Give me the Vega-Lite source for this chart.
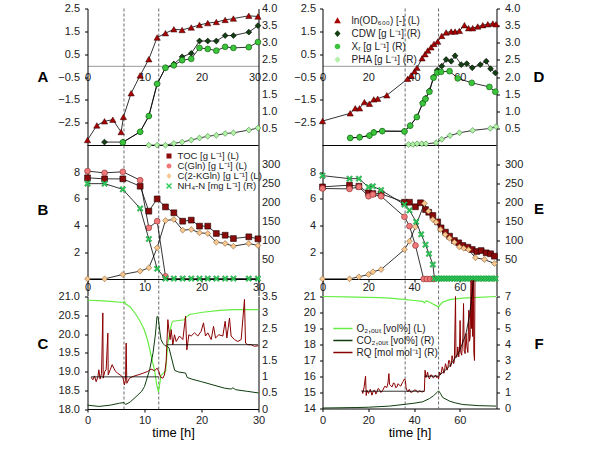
{
"$schema":"https://vega.github.io/schema/vega-lite/v6.json",
"padding":{"left":36.5,"top":2.5,"right":0,"bottom":0},
"background":"white",
"config":{"view":{"stroke":null},"font":"Liberation Sans",
"axis":{"labelFont":"Liberation Sans","labelFontSize":11,"labelColor":"#222","domainColor":"black","tickColor":"black","grid":false,"labelFlush":false,"labelOverlap":false,"labelBound":false,"titleFont":"Liberation Sans","titleColor":"black","titleFontWeight":"normal","domainWidth":1,"tickWidth":1},
"legend":{"labelFont":"Liberation Sans","labelColor":"#222","labelLimit":0}},
"datasets":{
"vlL":[{"t":6.4},{"t":12.5}],
"vlR":[{"t":36.1},{"t":50.7}],
"bot":[{"v":-3.5}],
"A":[
{"t":0,"s":"ln","v":-3.26},{"t":1.64,"s":"ln","v":-2.62},{"t":2.98,"s":"ln","v":-2.44},{"t":4.44,"s":"ln","v":-2.37},{"t":5.9,"s":"ln","v":-2.91},{"t":6.3,"s":"ln","v":-2.25},{"t":7.66,"s":"ln","v":-1.21},{"t":9.24,"s":"ln","v":-0.43},{"t":10.76,"s":"ln","v":0.28},{"t":12.22,"s":"ln","v":1.23},{"t":13.68,"s":"ln","v":1.42},{"t":15.15,"s":"ln","v":1.59},{"t":16.6,"s":"ln","v":1.56},{"t":18.2,"s":"ln","v":1.67},{"t":19.65,"s":"ln","v":1.78},{"t":21.1,"s":"ln","v":1.86},{"t":22.6,"s":"ln","v":1.91},{"t":24.15,"s":"ln","v":2.0},{"t":25.6,"s":"ln","v":2.06},{"t":28.3,"s":"ln","v":2.18},{"t":29.9,"s":"ln","v":2.15},
{"t":2.98,"s":"CDW","v":0.10},{"t":6.2,"s":"CDW","v":0.10},{"t":9.24,"s":"CDW","v":0.40},{"t":10.76,"s":"CDW","v":0.86},{"t":12.22,"s":"CDW","v":1.80},{"t":13.68,"s":"CDW","v":2.27},{"t":15.15,"s":"CDW","v":2.38},{"t":16.6,"s":"CDW","v":2.59},{"t":18.2,"s":"CDW","v":2.69},{"t":19.65,"s":"CDW","v":3.05},{"t":21.1,"s":"CDW","v":3.05},{"t":22.6,"s":"CDW","v":3.05},{"t":24.15,"s":"CDW","v":3.21},{"t":25.6,"s":"CDW","v":3.21},{"t":28.3,"s":"CDW","v":3.31},{"t":29.9,"s":"CDW","v":3.50},
{"t":6.2,"s":"Xr","v":0.09},{"t":9.24,"s":"Xr","v":0.40},{"t":10.76,"s":"Xr","v":0.86},{"t":12.22,"s":"Xr","v":1.80},{"t":13.68,"s":"Xr","v":2.27},{"t":15.15,"s":"Xr","v":2.34},{"t":16.6,"s":"Xr","v":2.49},{"t":18.2,"s":"Xr","v":2.53},{"t":19.65,"s":"Xr","v":2.85},{"t":21.1,"s":"Xr","v":2.82},{"t":22.6,"s":"Xr","v":2.77},{"t":24.15,"s":"Xr","v":2.88},{"t":25.6,"s":"Xr","v":2.85},{"t":28.3,"s":"Xr","v":2.87},{"t":29.9,"s":"Xr","v":3.02},
{"t":10.76,"s":"PHA","v":0.01},{"t":12.22,"s":"PHA","v":0.01},{"t":13.68,"s":"PHA","v":0.01},{"t":15.15,"s":"PHA","v":0.06},{"t":16.6,"s":"PHA","v":0.10},{"t":18.2,"s":"PHA","v":0.16},{"t":19.65,"s":"PHA","v":0.22},{"t":21.1,"s":"PHA","v":0.27},{"t":22.6,"s":"PHA","v":0.30},{"t":24.15,"s":"PHA","v":0.35},{"t":25.6,"s":"PHA","v":0.37},{"t":28.3,"s":"PHA","v":0.45},{"t":29.9,"s":"PHA","v":0.51}],
"D":[
{"t":0,"s":"ln","v":-2.43},{"t":12.1,"s":"ln","v":-2.09},{"t":14.3,"s":"ln","v":-1.87},{"t":16.2,"s":"ln","v":-1.87},{"t":18.3,"s":"ln","v":-1.6},{"t":20.5,"s":"ln","v":-1.67},{"t":22.4,"s":"ln","v":-1.48},{"t":24.1,"s":"ln","v":-1.45},{"t":28.1,"s":"ln","v":-1.3},{"t":37.2,"s":"ln","v":-0.58},{"t":38.7,"s":"ln","v":-0.43},{"t":40.2,"s":"ln","v":-0.25},{"t":41.3,"s":"ln","v":-0.1},{"t":43.5,"s":"ln","v":0.32},{"t":44.8,"s":"ln","v":0.5},{"t":46.0,"s":"ln","v":0.66},{"t":47.4,"s":"ln","v":0.8},{"t":48.7,"s":"ln","v":0.95},{"t":50.3,"s":"ln","v":1.05},{"t":52.1,"s":"ln","v":1.3},{"t":54.0,"s":"ln","v":1.45},{"t":56.2,"s":"ln","v":1.49},{"t":57.9,"s":"ln","v":1.49},{"t":59.8,"s":"ln","v":1.52},{"t":62.0,"s":"ln","v":1.77},{"t":63.8,"s":"ln","v":1.64},{"t":65.6,"s":"ln","v":1.64},{"t":67.8,"s":"ln","v":1.71},{"t":70.0,"s":"ln","v":1.77},{"t":72.2,"s":"ln","v":1.81},{"t":74.4,"s":"ln","v":1.84},{"t":75.8,"s":"ln","v":1.81},
{"t":12.1,"s":"CDW","v":0.22},{"t":16.2,"s":"CDW","v":0.24},{"t":20.5,"s":"CDW","v":0.29},{"t":22.4,"s":"CDW","v":0.39},{"t":26.1,"s":"CDW","v":0.42},{"t":35.8,"s":"CDW","v":0.42},{"t":38.3,"s":"CDW","v":0.58},{"t":41.2,"s":"CDW","v":0.83},{"t":43.8,"s":"CDW","v":1.25},{"t":45.0,"s":"CDW","v":1.38},{"t":46.7,"s":"CDW","v":1.6},{"t":48.5,"s":"CDW","v":2.0},{"t":50.1,"s":"CDW","v":2.2},{"t":52.1,"s":"CDW","v":2.32},{"t":54.0,"s":"CDW","v":2.51},{"t":56.2,"s":"CDW","v":2.46},{"t":57.9,"s":"CDW","v":2.62},{"t":60.6,"s":"CDW","v":2.36},{"t":63.0,"s":"CDW","v":2.39},{"t":65.4,"s":"CDW","v":2.27},{"t":68.9,"s":"CDW","v":2.36},{"t":71.5,"s":"CDW","v":2.46},{"t":73.4,"s":"CDW","v":2.24},{"t":75.5,"s":"CDW","v":2.12},
{"t":12.1,"s":"Xr","v":0.22},{"t":16.2,"s":"Xr","v":0.24},{"t":20.5,"s":"Xr","v":0.29},{"t":22.4,"s":"Xr","v":0.38},{"t":26.1,"s":"Xr","v":0.42},{"t":35.8,"s":"Xr","v":0.41},{"t":38.3,"s":"Xr","v":0.58},{"t":41.2,"s":"Xr","v":0.83},{"t":43.8,"s":"Xr","v":1.23},{"t":45.0,"s":"Xr","v":1.36},{"t":46.7,"s":"Xr","v":1.57},{"t":48.5,"s":"Xr","v":1.98},{"t":50.1,"s":"Xr","v":2.13},{"t":51.8,"s":"Xr","v":2.15},{"t":55.5,"s":"Xr","v":2.17},{"t":59.1,"s":"Xr","v":1.96},{"t":65.2,"s":"Xr","v":1.83},{"t":72.9,"s":"Xr","v":1.71},{"t":75.5,"s":"Xr","v":1.57},
{"t":37.6,"s":"PHA","v":0.03},{"t":39.5,"s":"PHA","v":0.03},{"t":41.3,"s":"PHA","v":0.05},{"t":43.4,"s":"PHA","v":0.05},{"t":45.2,"s":"PHA","v":0.05},{"t":49.6,"s":"PHA","v":0.08},{"t":52.1,"s":"PHA","v":0.18},{"t":55.7,"s":"PHA","v":0.29},{"t":59.8,"s":"PHA","v":0.37},{"t":65.6,"s":"PHA","v":0.44},{"t":73.3,"s":"PHA","v":0.5},{"t":75.8,"s":"PHA","v":0.55}],
"B":[
{"t":0,"s":"TOC","v":7.58},{"t":3.0,"s":"TOC","v":7.5},{"t":6.2,"s":"TOC","v":7.5},{"t":9.24,"s":"TOC","v":6.95},{"t":10.76,"s":"TOC","v":5.08},{"t":12.22,"s":"TOC","v":6.0},{"t":13.68,"s":"TOC","v":5.4},{"t":15.15,"s":"TOC","v":4.96},{"t":16.7,"s":"TOC","v":4.33},{"t":18.2,"s":"TOC","v":4.41},{"t":19.65,"s":"TOC","v":3.96},{"t":21.1,"s":"TOC","v":3.96},{"t":22.6,"s":"TOC","v":3.41},{"t":24.15,"s":"TOC","v":3.28},{"t":25.6,"s":"TOC","v":3.03},{"t":28.3,"s":"TOC","v":3.16},{"t":29.9,"s":"TOC","v":3.01},
{"t":0,"s":"Gln","v":8.08},{"t":3.0,"s":"Gln","v":7.95},{"t":6.2,"s":"Gln","v":8.03},{"t":9.24,"s":"Gln","v":7.4},{"t":10.76,"s":"Gln","v":3.83},{"t":12.22,"s":"Gln","v":4.33},{"t":13.68,"s":"Gln","v":0.2},
{"t":0,"s":"KG","v":0.01},{"t":3.0,"s":"KG","v":0.01},{"t":6.2,"s":"KG","v":0.34},{"t":9.24,"s":"KG","v":0.59},{"t":10.76,"s":"KG","v":0.84},{"t":12.22,"s":"KG","v":2.34},{"t":13.68,"s":"KG","v":4.38},{"t":15.15,"s":"KG","v":4.46},{"t":16.7,"s":"KG","v":3.66},{"t":18.2,"s":"KG","v":3.71},{"t":19.65,"s":"KG","v":3.46},{"t":21.1,"s":"KG","v":3.41},{"t":22.6,"s":"KG","v":2.76},{"t":24.15,"s":"KG","v":2.66},{"t":25.6,"s":"KG","v":2.46},{"t":28.3,"s":"KG","v":2.66},{"t":29.9,"s":"KG","v":2.51},
{"t":0,"s":"NH4","v":250},{"t":3.0,"s":"NH4","v":250},{"t":6.2,"s":"NH4","v":235},{"t":9.24,"s":"NH4","v":185},{"t":10.76,"s":"NH4","v":105},{"t":12.22,"s":"NH4","v":27},{"t":13.68,"s":"NH4","v":1},{"t":15.15,"s":"NH4","v":1},{"t":16.7,"s":"NH4","v":1},{"t":18.2,"s":"NH4","v":1},{"t":19.65,"s":"NH4","v":1},{"t":21.1,"s":"NH4","v":1},{"t":22.6,"s":"NH4","v":1},{"t":24.15,"s":"NH4","v":1},{"t":25.6,"s":"NH4","v":1},{"t":28.3,"s":"NH4","v":1},{"t":29.9,"s":"NH4","v":1}],
"E":[
{"t":0,"s":"TOC","v":6.9},{"t":11.8,"s":"TOC","v":7.03},{"t":15.9,"s":"TOC","v":6.95},{"t":20.1,"s":"TOC","v":6.45},{"t":22.0,"s":"TOC","v":6.4},{"t":25.6,"s":"TOC","v":6.38},{"t":35.8,"s":"TOC","v":5.75},{"t":38.0,"s":"TOC","v":5.75},{"t":40.6,"s":"TOC","v":5.41},{"t":42.8,"s":"TOC","v":5.71},{"t":45.0,"s":"TOC","v":5.2},{"t":46.4,"s":"TOC","v":5.0},{"t":48.2,"s":"TOC","v":4.76},{"t":50.3,"s":"TOC","v":4.28},{"t":51.8,"s":"TOC","v":3.83},{"t":53.7,"s":"TOC","v":3.51},{"t":55.5,"s":"TOC","v":3.21},{"t":57.6,"s":"TOC","v":2.88},{"t":59.5,"s":"TOC","v":2.71},{"t":61.3,"s":"TOC","v":2.51},{"t":63.5,"s":"TOC","v":2.38},{"t":65.4,"s":"TOC","v":2.21},{"t":67.4,"s":"TOC","v":2.06},{"t":69.3,"s":"TOC","v":2.13},{"t":71.5,"s":"TOC","v":1.96},{"t":73.4,"s":"TOC","v":1.89},{"t":75.1,"s":"TOC","v":1.71},
{"t":0,"s":"Gln","v":6.78},{"t":11.8,"s":"Gln","v":6.75},{"t":15.9,"s":"Gln","v":6.9},{"t":20.1,"s":"Gln","v":6.2},{"t":22.0,"s":"Gln","v":6.33},{"t":25.6,"s":"Gln","v":6.2},{"t":35.8,"s":"Gln","v":4.66},{"t":38.0,"s":"Gln","v":3.96},{"t":40.6,"s":"Gln","v":2.51},{"t":44.2,"s":"Gln","v":0},{"t":45.6,"s":"Gln","v":0},{"t":47.1,"s":"Gln","v":0},{"t":48.6,"s":"Gln","v":0},
{"t":0,"s":"KG","v":0.01},{"t":11.8,"s":"KG","v":0.01},{"t":15.9,"s":"KG","v":0.16},{"t":20.1,"s":"KG","v":0.34},{"t":22.0,"s":"KG","v":0.54},{"t":25.6,"s":"KG","v":0.71},{"t":35.8,"s":"KG","v":2.21},{"t":38.0,"s":"KG","v":2.83},{"t":40.6,"s":"KG","v":3.91},{"t":44.5,"s":"KG","v":5.66},{"t":46.3,"s":"KG","v":5.08},{"t":48.2,"s":"KG","v":4.46},{"t":49.6,"s":"KG","v":4.26},{"t":51.5,"s":"KG","v":3.71},{"t":53.6,"s":"KG","v":3.33},{"t":55.5,"s":"KG","v":3.05},{"t":57.6,"s":"KG","v":2.75},{"t":59.8,"s":"KG","v":2.4},{"t":61.7,"s":"KG","v":2.3},{"t":63.8,"s":"KG","v":2.2},{"t":66.8,"s":"KG","v":1.59},{"t":70.7,"s":"KG","v":1.46},{"t":75.1,"s":"KG","v":1.16},
{"t":0,"s":"NH4","v":271},{"t":11.8,"s":"NH4","v":263},{"t":15.9,"s":"NH4","v":263},{"t":20.1,"s":"NH4","v":241},{"t":22.0,"s":"NH4","v":243},{"t":25.6,"s":"NH4","v":233},{"t":35.8,"s":"NH4","v":195},{"t":38.0,"s":"NH4","v":180},{"t":40.9,"s":"NH4","v":150},{"t":43.1,"s":"NH4","v":117},{"t":45.0,"s":"NH4","v":90},{"t":46.5,"s":"NH4","v":66},{"t":48.2,"s":"NH4","v":38},{"t":48.9,"s":"NH4","v":1},{"t":50.2,"s":"NH4","v":1},{"t":51.3,"s":"NH4","v":1},{"t":52.5,"s":"NH4","v":1},{"t":53.6,"s":"NH4","v":1},{"t":54.8,"s":"NH4","v":1},{"t":56.0,"s":"NH4","v":1},{"t":57.1,"s":"NH4","v":1},{"t":58.3,"s":"NH4","v":1},{"t":59.4,"s":"NH4","v":1},{"t":60.6,"s":"NH4","v":1},{"t":61.7,"s":"NH4","v":1},{"t":62.9,"s":"NH4","v":1},{"t":64.0,"s":"NH4","v":1},{"t":65.2,"s":"NH4","v":1},{"t":66.4,"s":"NH4","v":1},{"t":67.5,"s":"NH4","v":1},{"t":68.7,"s":"NH4","v":1},{"t":69.8,"s":"NH4","v":1},{"t":71.0,"s":"NH4","v":1},{"t":72.1,"s":"NH4","v":1},{"t":73.3,"s":"NH4","v":1},{"t":74.4,"s":"NH4","v":1},{"t":75.6,"s":"NH4","v":1}],
"C":[
{"t":0,"s":"O2","v":20.9},{"t":2,"s":"O2","v":20.89},{"t":4,"s":"O2","v":20.87},{"t":6.3,"s":"O2","v":20.84},{"t":6.5,"s":"O2","v":20.87},{"t":6.7,"s":"O2","v":20.8},{"t":7.5,"s":"O2","v":20.72},{"t":8.5,"s":"O2","v":20.52},{"t":9.3,"s":"O2","v":20.32},{"t":10,"s":"O2","v":20.1},{"t":10.6,"s":"O2","v":19.8},{"t":11.2,"s":"O2","v":19.4},{"t":11.75,"s":"O2","v":19.04},{"t":12.2,"s":"O2","v":18.6},{"t":12.45,"s":"O2","v":18.45},{"t":12.9,"s":"O2","v":18.9},{"t":13.7,"s":"O2","v":19.0},{"t":14.1,"s":"O2","v":19.76},{"t":14.5,"s":"O2","v":20.1},{"t":14.8,"s":"O2","v":20.3},{"t":15.0,"s":"O2","v":20.34},{"t":17.0,"s":"O2","v":20.38},{"t":17.3,"s":"O2","v":20.45},{"t":17.9,"s":"O2","v":20.52},{"t":20.2,"s":"O2","v":20.58},{"t":23.2,"s":"O2","v":20.63},{"t":25.5,"s":"O2","v":20.65},{"t":30,"s":"O2","v":20.65},
{"t":0,"s":"CO2","v":0.12},{"t":2,"s":"CO2","v":0.08},{"t":4,"s":"CO2","v":0.12},{"t":5.6,"s":"CO2","v":0.18},{"t":6.4,"s":"CO2","v":0.2},{"t":6.7,"s":"CO2","v":0.14},{"t":7.5,"s":"CO2","v":0.22},{"t":8.5,"s":"CO2","v":0.38},{"t":9.5,"s":"CO2","v":0.55},{"t":10,"s":"CO2","v":0.7},{"t":10.9,"s":"CO2","v":1.22},{"t":11.5,"s":"CO2","v":1.75},{"t":11.9,"s":"CO2","v":2.3},{"t":12.2,"s":"CO2","v":2.88},{"t":12.4,"s":"CO2","v":2.85},{"t":12.7,"s":"CO2","v":2.4},{"t":12.9,"s":"CO2","v":2.16},{"t":13.2,"s":"CO2","v":2.05},{"t":13.6,"s":"CO2","v":1.97},{"t":14.0,"s":"CO2","v":1.95},{"t":14.3,"s":"CO2","v":1.9},{"t":15.0,"s":"CO2","v":1.4},{"t":15.3,"s":"CO2","v":1.2},{"t":16,"s":"CO2","v":1.15},{"t":17.2,"s":"CO2","v":1.12},{"t":17.5,"s":"CO2","v":0.98},{"t":18.5,"s":"CO2","v":0.92},{"t":20,"s":"CO2","v":0.85},{"t":22,"s":"CO2","v":0.75},{"t":24,"s":"CO2","v":0.65},{"t":25.2,"s":"CO2","v":0.62},{"t":25.5,"s":"CO2","v":0.66},{"t":26,"s":"CO2","v":0.6},{"t":28,"s":"CO2","v":0.55},{"t":30,"s":"CO2","v":0.5},
{"t":0.64,"s":"RQ","v":0.99},{"t":0.94,"s":"RQ","v":0.91},{"t":1.23,"s":"RQ","v":1.03},{"t":1.52,"s":"RQ","v":0.85},{"t":1.81,"s":"RQ","v":0.99},{"t":1.99,"s":"RQ","v":1.22},{"t":2.22,"s":"RQ","v":0.93},{"t":2.46,"s":"RQ","v":1.11},{"t":2.69,"s":"RQ","v":2.99},{"t":2.75,"s":"RQ","v":0.96},{"t":3.04,"s":"RQ","v":1.17},{"t":3.27,"s":"RQ","v":1.22},{"t":3.57,"s":"RQ","v":2.36},{"t":3.63,"s":"RQ","v":1.06},{"t":3.98,"s":"RQ","v":1.22},{"t":4.33,"s":"RQ","v":1.38},{"t":4.62,"s":"RQ","v":1.27},{"t":4.91,"s":"RQ","v":1.17},{"t":5.32,"s":"RQ","v":1.11},{"t":5.73,"s":"RQ","v":1.06},{"t":6.2,"s":"RQ","v":0.99},{"t":6.49,"s":"RQ","v":0.75},{"t":6.67,"s":"RQ","v":0.91},{"t":6.78,"s":"RQ","v":2.05},{"t":6.9,"s":"RQ","v":0.8},{"t":7.37,"s":"RQ","v":0.96},{"t":7.95,"s":"RQ","v":1.01},{"t":8.83,"s":"RQ","v":1.06},{"t":9.71,"s":"RQ","v":1.11},{"t":10.58,"s":"RQ","v":1.17},{"t":11.17,"s":"RQ","v":1.24},{"t":11.75,"s":"RQ","v":1.19},{"t":12.22,"s":"RQ","v":1.27},{"t":12.51,"s":"RQ","v":1.17},{"t":12.81,"s":"RQ","v":0.99},{"t":13.22,"s":"RQ","v":0.96},{"t":13.5,"s":"RQ","v":1.06},{"t":13.8,"s":"RQ","v":1.48},{"t":14.1,"s":"RQ","v":2.78},{"t":14.27,"s":"RQ","v":2.47},{"t":14.5,"s":"RQ","v":2.16},{"t":14.68,"s":"RQ","v":2.47},{"t":14.97,"s":"RQ","v":2.0},{"t":15.26,"s":"RQ","v":2.31},{"t":15.56,"s":"RQ","v":2.1},{"t":16.14,"s":"RQ","v":2.27},{"t":16.73,"s":"RQ","v":2.16},{"t":17.2,"s":"RQ","v":2.89},{"t":17.43,"s":"RQ","v":1.84},{"t":17.78,"s":"RQ","v":2.31},{"t":18.19,"s":"RQ","v":2.27},{"t":18.77,"s":"RQ","v":2.37},{"t":19.36,"s":"RQ","v":2.27},{"t":19.94,"s":"RQ","v":2.42},{"t":20.35,"s":"RQ","v":2.68},{"t":20.7,"s":"RQ","v":2.27},{"t":21.11,"s":"RQ","v":2.37},{"t":21.7,"s":"RQ","v":2.16},{"t":22.11,"s":"RQ","v":2.57},{"t":22.46,"s":"RQ","v":2.21},{"t":23.04,"s":"RQ","v":2.31},{"t":23.74,"s":"RQ","v":2.27},{"t":24.15,"s":"RQ","v":2.73},{"t":24.45,"s":"RQ","v":2.21},{"t":24.91,"s":"RQ","v":2.83},{"t":25.2,"s":"RQ","v":2.27},{"t":25.79,"s":"RQ","v":2.16},{"t":26.37,"s":"RQ","v":2.1},{"t":26.96,"s":"RQ","v":2.16},{"t":27.54,"s":"RQ","v":3.41},{"t":27.72,"s":"RQ","v":2.05},{"t":28.13,"s":"RQ","v":2.0},{"t":28.71,"s":"RQ","v":2.0},{"t":29.3,"s":"RQ","v":1.95},{"t":30.0,"s":"RQ","v":1.97}],
"Cfit":[{"t":0.64,"v":1.0,"g":"a"},{"t":12.5,"v":1.0,"g":"a"},{"t":13.9,"v":2.0,"g":"b"},{"t":29.9,"v":2.0,"g":"b"}],
"F":[
{"t":0,"s":"O2","v":21.0},{"t":10,"s":"O2","v":20.98},{"t":14.7,"s":"O2","v":20.96},{"t":20,"s":"O2","v":20.95},{"t":25,"s":"O2","v":20.93},{"t":29.3,"s":"O2","v":20.9},{"t":33,"s":"O2","v":20.85},{"t":36.5,"s":"O2","v":20.8},{"t":40,"s":"O2","v":20.75},{"t":43.8,"s":"O2","v":20.7},{"t":44.5,"s":"O2","v":20.6},{"t":45.2,"s":"O2","v":20.72},{"t":46,"s":"O2","v":20.7},{"t":48,"s":"O2","v":20.55},{"t":50.7,"s":"O2","v":20.35},{"t":51.5,"s":"O2","v":20.5},{"t":52.5,"s":"O2","v":20.65},{"t":55.5,"s":"O2","v":20.8},{"t":58,"s":"O2","v":20.85},{"t":61.3,"s":"O2","v":20.9},{"t":68,"s":"O2","v":20.95},{"t":75.8,"s":"O2","v":21.0},
{"t":0,"s":"CO2","v":0.03},{"t":14.7,"s":"CO2","v":0.06},{"t":20,"s":"CO2","v":0.08},{"t":29.3,"s":"CO2","v":0.15},{"t":36.5,"s":"CO2","v":0.27},{"t":40,"s":"CO2","v":0.33},{"t":43.8,"s":"CO2","v":0.42},{"t":46.7,"s":"CO2","v":0.62},{"t":48.5,"s":"CO2","v":0.8},{"t":50,"s":"CO2","v":1.0},{"t":50.7,"s":"CO2","v":1.1},{"t":51.5,"s":"CO2","v":0.95},{"t":52.5,"s":"CO2","v":0.69},{"t":55.5,"s":"CO2","v":0.46},{"t":58,"s":"CO2","v":0.35},{"t":61.3,"s":"CO2","v":0.25},{"t":68,"s":"CO2","v":0.18},{"t":75.8,"s":"CO2","v":0.15},
{"t":17.2,"s":"RQ","v":1.14},{"t":17.6,"s":"RQ","v":0.94},{"t":18.2,"s":"RQ","v":1.36},{"t":18.8,"s":"RQ","v":2.02},{"t":19.1,"s":"RQ","v":0.81},{"t":19.4,"s":"RQ","v":1.14},{"t":20.1,"s":"RQ","v":0.94},{"t":20.9,"s":"RQ","v":1.2},{"t":21.6,"s":"RQ","v":0.83},{"t":22.2,"s":"RQ","v":1.1},{"t":22.8,"s":"RQ","v":1.14},{"t":23.3,"s":"RQ","v":0.9},{"t":23.8,"s":"RQ","v":1.04},{"t":24.3,"s":"RQ","v":1.25},{"t":24.8,"s":"RQ","v":1.2},{"t":25.5,"s":"RQ","v":1.0},{"t":26.3,"s":"RQ","v":1.14},{"t":27.2,"s":"RQ","v":1.39},{"t":28.1,"s":"RQ","v":1.31},{"t":28.6,"s":"RQ","v":1.6},{"t":29.0,"s":"RQ","v":2.18},{"t":29.3,"s":"RQ","v":1.5},{"t":29.6,"s":"RQ","v":1.45},{"t":30.4,"s":"RQ","v":1.35},{"t":31.0,"s":"RQ","v":1.6},{"t":31.5,"s":"RQ","v":1.56},{"t":32.0,"s":"RQ","v":1.3},{"t":32.5,"s":"RQ","v":1.35},{"t":33.0,"s":"RQ","v":1.55},{"t":33.6,"s":"RQ","v":1.45},{"t":34.2,"s":"RQ","v":1.4},{"t":34.8,"s":"RQ","v":1.6},{"t":35.3,"s":"RQ","v":1.7},{"t":35.8,"s":"RQ","v":1.85},{"t":36.2,"s":"RQ","v":1.75},{"t":36.5,"s":"RQ","v":1.3},{"t":36.8,"s":"RQ","v":1.16},{"t":37.3,"s":"RQ","v":1.05},{"t":37.9,"s":"RQ","v":1.2},{"t":38.6,"s":"RQ","v":1.0},{"t":39.4,"s":"RQ","v":1.06},{"t":40.1,"s":"RQ","v":1.15},{"t":40.9,"s":"RQ","v":1.14},{"t":41.6,"s":"RQ","v":1.0},{"t":42.4,"s":"RQ","v":1.1},{"t":43.1,"s":"RQ","v":1.05},{"t":43.8,"s":"RQ","v":1.04},{"t":44.5,"s":"RQ","v":1.1},{"t":44.8,"s":"RQ","v":2.39},{"t":45.2,"s":"RQ","v":1.93},{"t":45.6,"s":"RQ","v":2.1},{"t":45.9,"s":"RQ","v":2.27},{"t":46.3,"s":"RQ","v":1.95},{"t":46.7,"s":"RQ","v":1.85},{"t":47.3,"s":"RQ","v":2.1},{"t":47.9,"s":"RQ","v":2.06},{"t":48.4,"s":"RQ","v":1.9},{"t":48.9,"s":"RQ","v":2.0},{"t":49.4,"s":"RQ","v":2.1},{"t":49.9,"s":"RQ","v":1.93},{"t":50.3,"s":"RQ","v":2.0},{"t":50.7,"s":"RQ","v":1.85},{"t":51.1,"s":"RQ","v":2.27},{"t":51.5,"s":"RQ","v":2.1},{"t":51.9,"s":"RQ","v":2.27},{"t":52.3,"s":"RQ","v":2.6},{"t":52.6,"s":"RQ","v":2.47},{"t":53.0,"s":"RQ","v":2.2},{"t":53.3,"s":"RQ","v":2.37},{"t":53.7,"s":"RQ","v":2.8},{"t":54.0,"s":"RQ","v":2.68},{"t":54.4,"s":"RQ","v":2.4},{"t":54.8,"s":"RQ","v":2.58},{"t":55.1,"s":"RQ","v":3.0},{"t":55.5,"s":"RQ","v":2.99},{"t":55.9,"s":"RQ","v":2.6},{"t":56.2,"s":"RQ","v":2.74},{"t":56.6,"s":"RQ","v":3.3},{"t":56.9,"s":"RQ","v":3.1},{"t":57.3,"s":"RQ","v":2.8},{"t":57.6,"s":"RQ","v":2.99},{"t":58.1,"s":"RQ","v":7.0},{"t":58.3,"s":"RQ","v":3.2},{"t":58.7,"s":"RQ","v":3.22},{"t":59.1,"s":"RQ","v":3.85},{"t":59.5,"s":"RQ","v":3.22},{"t":59.8,"s":"RQ","v":3.6},{"t":60.1,"s":"RQ","v":5.5},{"t":60.4,"s":"RQ","v":3.5},{"t":60.8,"s":"RQ","v":3.33},{"t":61.3,"s":"RQ","v":4.47},{"t":61.6,"s":"RQ","v":6.56},{"t":61.9,"s":"RQ","v":3.6},{"t":62.3,"s":"RQ","v":3.43},{"t":62.7,"s":"RQ","v":4.69},{"t":63.0,"s":"RQ","v":3.95},{"t":63.5,"s":"RQ","v":3.5},{"t":63.9,"s":"RQ","v":6.14},{"t":64.2,"s":"RQ","v":4.2},{"t":64.5,"s":"RQ","v":4.47},{"t":64.9,"s":"RQ","v":8.0},{"t":65.1,"s":"RQ","v":5.0},{"t":65.4,"s":"RQ","v":8.0},{"t":65.6,"s":"RQ","v":4.5},{"t":65.9,"s":"RQ","v":8.0},{"t":66.1,"s":"RQ","v":3.5},{"t":66.4,"s":"RQ","v":3.0},{"t":66.6,"s":"RQ","v":8.0}],
"Ffit":[{"t":17.2,"v":1.08,"g":"a"},{"t":44.6,"v":1.08,"g":"a"},{"t":44.6,"v":2.02,"g":"b"},{"t":50.7,"v":2.02,"g":"b"},{"t":50.7,"v":2.05,"g":"c"},{"t":53,"v":2.3,"g":"c"},{"t":55.5,"v":2.65,"g":"c"},{"t":57.5,"v":3.05,"g":"c"},{"t":59.8,"v":3.6,"g":"c"},{"t":61.5,"v":4.2,"g":"c"},{"t":62.7,"v":4.7,"g":"c"},{"t":64.2,"v":5.8,"g":"c"},{"t":65.2,"v":7.0,"g":"c"},{"t":65.9,"v":8.0,"g":"c"}],
"legB":[{"s":"TOC [g L⁻¹] (L)"},{"s":"C(Gln) [g L⁻¹] (L)"},{"s":"C(2-KGln) [g L⁻¹] (L)"},{"s":"NH₄-N [mg L⁻¹] (R)"}],
"legD":[{"s":"ln(OD₆₀₀) [-] (L)"},{"s":"CDW [g L⁻¹] (R)"},{"s":"Xᵣ [g L⁻¹] (R)"},{"s":"PHA [g L⁻¹] (R)"}],
"legF":[{"s":"O₂,ₒᵤₜ [vol%] (L)"},{"s":"CO₂,ₒᵤₜ [vol%] (R)"},{"s":"RQ [mol mol⁻¹] (R)"}]
},
"concat":[
  {"width":171,"height":137,
   "layer":[
    {"data":{"name":"vlL"},"mark":{"type":"rule","strokeDash":[3,2],"color":"#444","strokeWidth":0.8},
     "encoding":{"x":{"field":"t","type":"quantitative","scale":{"domain":[0,30],"nice":false},"axis":{"orient":"bottom","offset":-79.7,"values":[0,10,20,30],"labelOverlap":false,"labelOffset":{"condition":{"test":"datum.value == 30","value":-4},"value":0},"domainColor":"#999","ticks":false,"labelPadding":6,"title":null}}}},
    {"encoding":{"x":{"field":"t","type":"quantitative"},"y":{"field":"v","type":"quantitative","scale":{"domain":[-3.5,2.5],"nice":false,"zero":false},"axis":{"orient":"left","values":[-2.5,-1.5,-0.5,0.5,1.5,2.5],"labelOverlap":false,"format":".1f","tickSize":3,"labelPadding":5,"title":"A","titleAngle":0,"titleX":-45,"titleY":68,"titleFontSize":15,"titleFontWeight":"bold","titleAlign":"center","titleBaseline":"middle"}}},
     "layer":[
      {"data":{"name":"bot"},"mark":{"type":"rule","color":"black","strokeWidth":1},"encoding":{"x":null}},
      {"data":{"name":"A"},"transform":[{"filter":"datum.s=='ln'"}],"mark":{"type":"line","color":"black","strokeWidth":0.8}},
      {"data":{"name":"A"},"transform":[{"filter":"datum.s=='ln'"}],"mark":{"type":"point","shape":"triangle-up","filled":true,"fill":"#a80000","stroke":"#300000","strokeWidth":0.5,"size":40,"opacity":1}}
    ]},
    {"data":{"name":"A"},"transform":[{"filter":"datum.s!='ln'"}],
     "encoding":{"x":{"field":"t","type":"quantitative"},"y":{"field":"v","type":"quantitative","scale":{"domain":[0,4],"nice":false},"axis":{"orient":"right","values":[0.5,1,1.5,2,2.5,3,3.5,4],"labelOverlap":false,"format":".1f","ticks":false,"labelPadding":3,"title":null}}},
     "layer":[
      {"mark":{"type":"line","color":"black","strokeWidth":0.8},"encoding":{"detail":{"field":"s"}}},
      {"mark":{"type":"point","filled":true,"size":34,"opacity":1,"strokeWidth":0.6},"encoding":{
        "shape":{"field":"s","scale":{"domain":["CDW","Xr","PHA"],"range":["diamond","circle","diamond"]},"legend":null},
        "fill":{"field":"s","scale":{"domain":["CDW","Xr","PHA"],"range":["#124012","#3cc43c","#b4f0a8"]},"legend":null},
        "stroke":{"field":"s","scale":{"domain":["CDW","Xr","PHA"],"range":["#000000","#0a5a0a","#3a8a3a"]},"legend":null}}}
     ]}
   ],
   "resolve":{"scale":{"y":"independent","shape":"independent","fill":"independent","stroke":"independent"}}},
  {"width":174,"height":137,
   "layer":[
    {"data":{"name":"vlR"},"mark":{"type":"rule","strokeDash":[3,2],"color":"#444","strokeWidth":0.8},
     "encoding":{"x":{"field":"t","type":"quantitative","scale":{"domain":[0,76],"nice":false},"axis":{"orient":"bottom","offset":-79.7,"values":[0,20,40,60],"labelOverlap":false,"domainColor":"#999","ticks":false,"labelPadding":6,"title":null}}}},
    {"encoding":{"x":{"field":"t","type":"quantitative"},"y":{"field":"v","type":"quantitative","scale":{"domain":[-3.5,2.5],"nice":false,"zero":false},"axis":{"orient":"left","values":[-2.5,-1.5,-0.5,0.5,1.5,2.5],"labelOverlap":false,"format":".1f","tickSize":3,"labelPadding":4,"title":null}}},
     "layer":[
      {"data":{"name":"bot"},"mark":{"type":"rule","color":"black","strokeWidth":1},"encoding":{"x":null}},
      {"data":{"name":"D"},"transform":[{"filter":"datum.s=='ln'"}],"mark":{"type":"line","color":"black","strokeWidth":0.8}},
      {"data":{"name":"D"},"transform":[{"filter":"datum.s=='ln'"}],"mark":{"type":"point","shape":"triangle-up","filled":true,"fill":"#a80000","stroke":"#300000","strokeWidth":0.5,"size":40,"opacity":1}}
    ]},
    {"data":{"name":"D"},"transform":[{"filter":"datum.s!='ln'"}],
     "encoding":{"x":{"field":"t","type":"quantitative"},"y":{"field":"v","type":"quantitative","scale":{"domain":[0,4],"nice":false},"axis":{"orient":"right","values":[0.5,1,1.5,2,2.5,3,3.5,4],"labelOverlap":false,"format":".1f","tickSize":3,"labelPadding":5,"title":"D","titleAngle":0,"titleX":42,"titleY":68,"titleFontSize":15,"titleFontWeight":"bold","titleAlign":"center","titleBaseline":"middle"}}},
     "layer":[
      {"mark":{"type":"line","color":"black","strokeWidth":0.8},"encoding":{"detail":{"field":"s"}}},
      {"mark":{"type":"point","filled":true,"size":34,"opacity":1,"strokeWidth":0.6},"encoding":{
        "shape":{"field":"s","scale":{"domain":["CDW","Xr","PHA"],"range":["diamond","circle","diamond"]},"legend":null},
        "fill":{"field":"s","scale":{"domain":["CDW","Xr","PHA"],"range":["#124012","#3cc43c","#b4f0a8"]},"legend":null},
        "stroke":{"field":"s","scale":{"domain":["CDW","Xr","PHA"],"range":["#000000","#0a5a0a","#3a8a3a"]},"legend":null}}}
     ]},
    {"data":{"name":"legD"},"mark":{"type":"point","filled":true,"opacity":0,"stroke":"black","strokeWidth":0.6},
     "encoding":{
      "shape":{"field":"s","scale":{"domain":["ln(OD₆₀₀) [-] (L)","CDW [g L⁻¹] (R)","Xᵣ [g L⁻¹] (R)","PHA [g L⁻¹] (R)"],"range":["M-1,0L1,0M0,-0.45L0.45,0.35L-0.45,0.35Z","M-1,0L1,0M0,-0.45L0.4,0L0,0.45L-0.4,0Z","M-1,0L1,0M0.38,0A0.38,0.38,0,1,1,-0.38,0A0.38,0.38,0,1,1,0.38,0Z","M-1,0L1,0M0,-0.45L0.4,0L0,0.45L-0.4,0Z"]},
        "legend":{"title":null,"orient":"none","legendX":7,"legendY":4,"symbolSize":225,"symbolStrokeColor":"black","symbolStrokeWidth":0.6,"symbolOpacity":1,"labelFontSize":10,"labelOffset":6,"rowPadding":-1.4,"padding":0}},
      "fill":{"field":"s","scale":{"domain":["ln(OD₆₀₀) [-] (L)","CDW [g L⁻¹] (R)","Xᵣ [g L⁻¹] (R)","PHA [g L⁻¹] (R)"],"range":["#a80000","#124012","#3cc43c","#b4f0a8"]},
        "legend":{"title":null,"orient":"none","legendX":7,"legendY":4,"symbolSize":225,"symbolStrokeColor":"black","symbolStrokeWidth":0.6,"symbolOpacity":1,"labelFontSize":10,"labelOffset":6,"rowPadding":-1.4,"padding":0}}}}
   ],
   "resolve":{"scale":{"y":"independent","shape":"independent","fill":"independent","stroke":"independent"}}},
  {"width":171,"height":150.3,
   "layer":[
    {"data":{"name":"vlL"},"mark":{"type":"rule","strokeDash":[3,2],"color":"#444","strokeWidth":0.8},
     "encoding":{"x":{"field":"t","type":"quantitative","scale":{"domain":[0,30],"nice":false},"axis":{"orient":"bottom","offset":-16.8,"values":[0,10,20,30],"labelOverlap":false,"tickSize":3,"labelPadding":-1,"title":null}}}},
    {"data":{"name":"B"},"transform":[{"filter":"datum.s!='NH4'"}],
     "encoding":{"x":{"field":"t","type":"quantitative"},"y":{"field":"v","type":"quantitative","scale":{"domain":[-1.258,10],"nice":false,"zero":false},"axis":{"orient":"left","values":[2,4,6,8],"labelOverlap":false,"tickSize":3,"labelPadding":5,"title":"B","titleAngle":0,"titleX":-45,"titleY":64,"titleFontSize":15,"titleFontWeight":"bold","titleAlign":"center","titleBaseline":"middle"}}},
     "layer":[
      {"mark":{"type":"line","color":"black","strokeWidth":0.8},"encoding":{"detail":{"field":"s"}}},
      {"mark":{"type":"point","filled":true,"size":34,"opacity":1,"strokeWidth":0.6},"encoding":{
        "shape":{"field":"s","scale":{"domain":["TOC","Gln","KG"],"range":["square","circle","diamond"]},"legend":null},
        "fill":{"field":"s","scale":{"domain":["TOC","Gln","KG"],"range":["#8b0a0a","#f07878","#f8c890"]},"legend":null},
        "stroke":{"field":"s","scale":{"domain":["TOC","Gln","KG"],"range":["#200000","#8a3030","#8a6030"]},"legend":null}}}
     ]},
    {"data":{"name":"B"},"transform":[{"filter":"datum.s=='NH4'"}],
     "encoding":{"x":{"field":"t","type":"quantitative"},"y":{"field":"v","type":"quantitative","scale":{"domain":[-44.05,350],"nice":false,"zero":false},"axis":{"orient":"right","values":[50,100,150,200,250,300],"labelOverlap":false,"ticks":false,"labelPadding":3,"title":null}}},
     "layer":[
      {"mark":{"type":"line","color":"black","strokeWidth":0.8}},
      {"mark":{"type":"point","filled":true,"size":36,"opacity":1,"fill":"#2ecc5a","stroke":"#108a30","strokeWidth":0.5,"shape":"M-1,-0.6L-0.6,-1L0,-0.35L0.6,-1L1,-0.6L0.35,0L1,0.6L0.6,1L0,0.35L-0.6,1L-1,0.6L-0.35,0Z"}}
     ]},
    {"data":{"name":"legB"},"mark":{"type":"point","filled":true,"opacity":0,"stroke":"black","strokeWidth":0.6},
     "encoding":{
      "shape":{"field":"s","scale":{"domain":["TOC [g L⁻¹] (L)","C(Gln) [g L⁻¹] (L)","C(2-KGln) [g L⁻¹] (L)","NH₄-N [mg L⁻¹] (R)"],"range":["M-1.2,0L1.2,0M-0.5,-0.5L0.5,-0.5L0.5,0.5L-0.5,0.5Z","M-1.2,0L1.2,0M0.5,0A0.5,0.5,0,1,1,-0.5,0A0.5,0.5,0,1,1,0.5,0Z","M-1.2,0L1.2,0M0,-0.6L0.5,0L0,0.6L-0.5,0Z","M-1.2,0L1.2,0M-0.6,-0.4L-0.4,-0.6L0,-0.2L0.4,-0.6L0.6,-0.4L0.2,0L0.6,0.4L0.4,0.6L0,0.2L-0.4,0.6L-0.6,0.4L-0.2,0Z"]},
        "legend":{"title":null,"orient":"none","legendX":76,"legendY":5,"symbolSize":100,"symbolStrokeColor":"black","symbolStrokeWidth":0.6,"symbolOpacity":1,"labelFontSize":9.5,"labelOffset":3,"rowPadding":0,"padding":0}},
      "fill":{"field":"s","scale":{"domain":["TOC [g L⁻¹] (L)","C(Gln) [g L⁻¹] (L)","C(2-KGln) [g L⁻¹] (L)","NH₄-N [mg L⁻¹] (R)"],"range":["#8b0a0a","#f07878","#f8c890","#2ecc5a"]},
        "legend":{"title":null,"orient":"none","legendX":76,"legendY":5,"symbolSize":100,"symbolStrokeColor":"black","symbolStrokeWidth":0.6,"symbolOpacity":1,"labelFontSize":9.5,"labelOffset":3,"rowPadding":0,"padding":0}}}}
   ],
   "resolve":{"scale":{"y":"independent","shape":"independent","fill":"independent","stroke":"independent"}}},
  {"width":174,"height":150.3,
   "layer":[
    {"data":{"name":"vlR"},"mark":{"type":"rule","strokeDash":[3,2],"color":"#444","strokeWidth":0.8},
     "encoding":{"x":{"field":"t","type":"quantitative","scale":{"domain":[0,76],"nice":false},"axis":{"orient":"bottom","offset":-16.8,"values":[0,20,40,60],"labelOverlap":false,"tickSize":3,"labelPadding":-1,"title":null}}}},
    {"data":{"name":"E"},"transform":[{"filter":"datum.s!='NH4'"}],
     "encoding":{"x":{"field":"t","type":"quantitative"},"y":{"field":"v","type":"quantitative","scale":{"domain":[-1.258,10],"nice":false,"zero":false},"axis":{"orient":"left","values":[2,4,6,8],"labelOverlap":false,"tickSize":3,"labelPadding":4,"title":null}}},
     "layer":[
      {"mark":{"type":"line","color":"black","strokeWidth":0.8},"encoding":{"detail":{"field":"s"}}},
      {"mark":{"type":"point","filled":true,"size":34,"opacity":1,"strokeWidth":0.6},"encoding":{
        "shape":{"field":"s","scale":{"domain":["TOC","Gln","KG"],"range":["square","circle","diamond"]},"legend":null},
        "fill":{"field":"s","scale":{"domain":["TOC","Gln","KG"],"range":["#8b0a0a","#f07878","#f8c890"]},"legend":null},
        "stroke":{"field":"s","scale":{"domain":["TOC","Gln","KG"],"range":["#200000","#8a3030","#8a6030"]},"legend":null}}}
     ]},
    {"data":{"name":"E"},"transform":[{"filter":"datum.s=='NH4'"}],
     "encoding":{"x":{"field":"t","type":"quantitative"},"y":{"field":"v","type":"quantitative","scale":{"domain":[-44.05,350],"nice":false,"zero":false},"axis":{"orient":"right","values":[50,100,150,200,250,300],"labelOverlap":false,"tickSize":3,"labelPadding":5,"title":"E","titleAngle":0,"titleX":42,"titleY":63,"titleFontSize":15,"titleFontWeight":"bold","titleAlign":"center","titleBaseline":"middle"}}},
     "layer":[
      {"mark":{"type":"line","color":"black","strokeWidth":0.8}},
      {"mark":{"type":"point","filled":true,"size":36,"opacity":1,"fill":"#2ecc5a","stroke":"#108a30","strokeWidth":0.5,"shape":"M-1,-0.6L-0.6,-1L0,-0.35L0.6,-1L1,-0.6L0.35,0L1,0.6L0.6,1L0,0.35L-0.6,1L-1,0.6L-0.35,0Z"}}
     ]}
   ],
   "resolve":{"scale":{"y":"independent","shape":"independent","fill":"independent","stroke":"independent"}}},
  {"width":171,"height":112.5,
   "layer":[
    {"data":{"name":"vlL"},"mark":{"type":"rule","strokeDash":[3,2],"color":"#444","strokeWidth":0.8},
     "encoding":{"x":{"field":"t","type":"quantitative","scale":{"domain":[0,30],"nice":false},"axis":{"orient":"bottom","values":[0,10,20,30],"labelOverlap":false,"tickSize":3,"labelPadding":2.5,"title":"time [h]","titleFontSize":13,"titlePadding":1}}}},
    {"data":{"name":"C"},"transform":[{"filter":"datum.s=='O2'"}],"mark":{"type":"line","color":"#66ee44","strokeWidth":1.2},
     "encoding":{"x":{"field":"t","type":"quantitative"},"y":{"field":"v","type":"quantitative","scale":{"domain":[18,21],"nice":false,"zero":false},"axis":{"orient":"left","values":[18,18.5,19,19.5,20,20.5,21],"labelOverlap":false,"format":".1f","tickSize":3,"labelPadding":5,"title":"C","titleAngle":0,"titleX":-45,"titleY":47,"titleFontSize":15,"titleFontWeight":"bold","titleAlign":"center","titleBaseline":"middle"}}}},
    {"encoding":{"x":{"field":"t","type":"quantitative"},"y":{"field":"v","type":"quantitative","scale":{"domain":[0,3.5],"nice":false},"axis":{"orient":"right","values":[0,0.5,1,1.5,2,2.5,3,3.5],"labelOverlap":false,"format":".2~f","ticks":false,"labelPadding":3,"title":null}}},
     "layer":[
      {"data":{"name":"C"},"transform":[{"filter":"datum.s!='O2'"}],"mark":{"type":"line","strokeWidth":1},
       "encoding":{"color":{"field":"s","scale":{"domain":["CO2","RQ"],"range":["#0d3d0d","#8b0000"]},"legend":null}}},
      {"data":{"name":"Cfit"},"mark":{"type":"line","color":"black","strokeWidth":0.8},"encoding":{"detail":{"field":"g"}}}
    ]}
   ],
   "resolve":{"scale":{"y":"independent","color":"independent"}}},
  {"width":174,"height":112,
   "layer":[
    {"data":{"name":"vlR"},"mark":{"type":"rule","strokeDash":[3,2],"color":"#444","strokeWidth":0.8},
     "encoding":{"x":{"field":"t","type":"quantitative","scale":{"domain":[0,76],"nice":false},"axis":{"orient":"bottom","values":[0,20,40,60],"labelOverlap":false,"tickSize":3,"labelPadding":2.5,"title":"time [h]","titleFontSize":13,"titlePadding":1}}}},
    {"data":{"name":"F"},"transform":[{"filter":"datum.s=='O2'"}],"mark":{"type":"line","color":"#66ee44","strokeWidth":1.2},
     "encoding":{"x":{"field":"t","type":"quantitative"},"y":{"field":"v","type":"quantitative","scale":{"domain":[14,21],"nice":false,"zero":false},"axis":{"orient":"left","values":[14,15,16,17,18,19,20,21],"labelOverlap":false,"tickSize":3,"labelPadding":4,"title":null}}}},
    {"encoding":{"x":{"field":"t","type":"quantitative"},"y":{"field":"v","type":"quantitative","scale":{"domain":[0,7],"nice":false},"axis":{"orient":"right","values":[0,1,2,3,4,5,6,7],"labelOverlap":false,"tickSize":3,"labelPadding":5,"title":"F","titleAngle":0,"titleX":42,"titleY":47,"titleFontSize":15,"titleFontWeight":"bold","titleAlign":"center","titleBaseline":"middle"}}},
     "layer":[
      {"data":{"name":"F"},"transform":[{"filter":"datum.s!='O2'"}],"mark":{"type":"line","strokeWidth":1,"clip":false},
       "encoding":{"color":{"field":"s","scale":{"domain":["CO2","RQ"],"range":["#0d3d0d","#8b0000"]},"legend":null}}},
      {"data":{"name":"Ffit"},"mark":{"type":"line","color":"black","strokeWidth":0.8,"clip":false},"encoding":{"detail":{"field":"g"}}}
    ]},
    {"data":{"name":"legF"},"mark":{"type":"point","opacity":0,"strokeWidth":1.5},
     "encoding":{"stroke":{"field":"s","scale":{"domain":["O₂,ₒᵤₜ [vol%] (L)","CO₂,ₒᵤₜ [vol%] (R)","RQ [mol mol⁻¹] (R)"],"range":["#66ee44","#0d3d0d","#8b0000"]},
       "legend":{"title":null,"orient":"none","legendX":13.4,"legendY":25,"symbolType":"M-1.6,0L1.6,0","symbolSize":144,"symbolStrokeWidth":1.5,"symbolOpacity":1,"labelFontSize":10,"labelOffset":6.6,"rowPadding":0,"padding":0}}}}
   ],
   "resolve":{"scale":{"y":"independent","color":"independent","stroke":"independent"}}}
],
"columns":2,
"spacing":{"row":0,"column":64},
"bounds":"flush",
"resolve":{"scale":{"x":"independent","y":"independent","shape":"independent","fill":"independent","stroke":"independent","color":"independent"}}
}
